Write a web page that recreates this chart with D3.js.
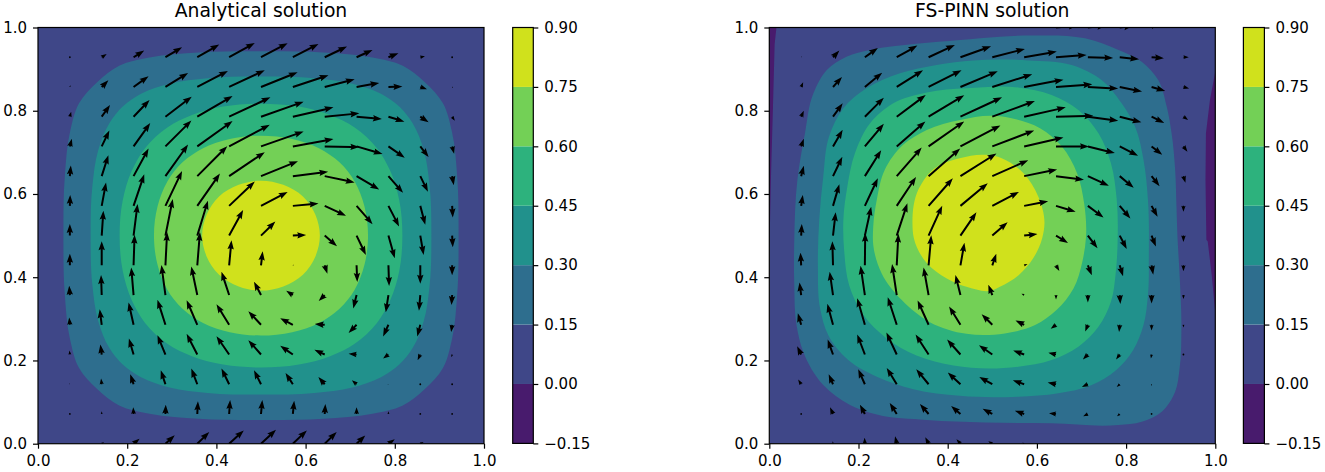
<!DOCTYPE html>
<html>
<head>
<meta charset="utf-8">
<script src="https://cdn.jsdelivr.net/npm/d3@7"></script>
<style>
body { margin: 0; background: #fff; }
text { font-family: "DejaVu Sans", sans-serif; fill: #000; }
</style>
</head>
<body>
<svg width="1325" height="472"></svg>
<script>
// contour levels and colorbar ticks
const levels = [-0.15, 0, 0.15, 0.30, 0.45, 0.60, 0.75, 0.90];
const axisTicks = [0, 0.2, 0.4, 0.6, 0.8, 1];
const gridSize = 15;

// filled contour outlines, in data units (0.15, 0.30, 0.45, 0.60, 0.75)
const analyticLoop015 = [[.943,.5],[.94,.64],[.928,.75],[.908,.818],[.868,.868],[.818,.908],[.75,.928],[.64,.94],[.5,.943],[.36,.94],[.25,.928],[.182,.908],[.132,.868],[.092,.818],[.072,.75],[.06,.64],[.057,.5],[.06,.36],[.072,.25],[.092,.182],[.132,.132],[.182,.092],[.25,.072],[.36,.06],[.5,.057],[.64,.06],[.75,.072],[.818,.092],[.868,.132],[.908,.182],[.928,.25],[.94,.36]];
const analyticLoop030 = [[.882,.5],[.878,.62],[.865,.705],[.84,.77],[.81,.81],[.77,.84],[.705,.865],[.62,.878],[.5,.882],[.38,.878],[.295,.865],[.23,.84],[.19,.81],[.16,.77],[.135,.705],[.122,.62],[.118,.5],[.122,.38],[.135,.295],[.16,.23],[.19,.19],[.23,.16],[.295,.135],[.38,.122],[.5,.118],[.62,.122],[.705,.135],[.77,.16],[.81,.19],[.84,.23],[.865,.295],[.878,.38]];
const analyticLoop045 = [[.817,.5],[.81,.585],[.79,.655],[.76,.71],[.71,.76],[.655,.79],[.585,.81],[.5,.817],[.415,.81],[.345,.79],[.29,.76],[.24,.71],[.21,.655],[.19,.585],[.183,.5],[.19,.415],[.21,.345],[.24,.29],[.29,.24],[.345,.21],[.415,.19],[.5,.183],[.585,.19],[.655,.21],[.71,.24],[.76,.29],[.79,.345],[.81,.415]];
const analyticLoop060 = [[.74,.5],[.732,.57],[.71,.63],[.676,.676],[.63,.71],[.57,.732],[.5,.74],[.43,.732],[.37,.71],[.324,.676],[.29,.63],[.268,.57],[.26,.5],[.268,.43],[.29,.37],[.324,.324],[.37,.29],[.43,.268],[.5,.26],[.57,.268],[.63,.29],[.676,.324],[.71,.37],[.732,.43]];
const analyticLoop075 = [[.632,.5],[.622,.55],[.594,.594],[.55,.622],[.5,.632],[.45,.622],[.406,.594],[.378,.55],[.368,.5],[.378,.45],[.406,.406],[.45,.378],[.5,.368],[.55,.378],[.594,.406],[.622,.45]];

const pinnLoop015 = [[.056,.49],[.063,.634],[.08,.746],[.099,.842],[.129,.898],[.173,.93],[.226,.946],[.33,.961],[.428,.97],[.517,.978],[.596,.981],[.708,.974],[.783,.946],[.835,.918],[.872,.874],[.891,.81],[.902,.746],[.91,.658],[.913,.569],[.915,.502],[.92,.405],[.924,.277],[.92,.181],[.91,.125],[.88,.077],[.835,.053],[.783,.045],[.633,.049],[.484,.051],[.353,.057],[.241,.07],[.181,.093],[.121,.141],[.076,.221],[.061,.285],[.056,.381]];
const pinnLoop030 = [[.112,.538],[.121,.642],[.134,.738],[.166,.806],[.218,.854],[.293,.89],[.375,.91],[.457,.921],[.581,.921],[.678,.91],[.745,.874],[.79,.818],[.82,.762],[.839,.682],[.849,.586],[.851,.454],[.849,.357],[.839,.285],[.816,.225],[.778,.177],[.723,.141],[.648,.121],[.558,.113],[.427,.115],[.323,.131],[.241,.161],[.177,.201],[.132,.261],[.114,.325],[.109,.421]];
const pinnLoop045 = [[.166,.537],[.175,.618],[.192,.698],[.226,.77],[.278,.818],[.353,.844],[.442,.854],[.558,.856],[.633,.838],[.693,.802],[.738,.746],[.766,.674],[.779,.586],[.781,.486],[.777,.413],[.766,.341],[.738,.281],[.693,.233],[.633,.201],[.558,.185],[.413,.188],[.33,.212],[.263,.253],[.211,.309],[.179,.381],[.168,.462]];
const pinnLoop060 = [[.233,.521],[.241,.586],[.259,.658],[.3,.718],[.353,.754],[.428,.778],[.502,.788],[.543,.782],[.607,.758],[.656,.714],[.69,.65],[.706,.577],[.71,.494],[.702,.438],[.682,.373],[.644,.321],[.596,.285],[.528,.265],[.442,.264],[.36,.292],[.297,.345],[.252,.409],[.233,.478]];
const pinnLoop075 = [[.321,.529],[.334,.61],[.371,.662],[.427,.686],[.487,.694],[.521,.686],[.57,.65],[.603,.594],[.617,.53],[.612,.494],[.592,.446],[.559,.405],[.517,.377],[.502,.369],[.442,.377],[.398,.397],[.353,.434],[.324,.494]];

// regions below zero in the FS-PINN panel
const pinnNegLeft = [[0,1],[.016,1],[.012,.96],[.008,.8],[.004,.65],[.001,.5],[0,.47]];
const pinnNegRight = [[1,.895],[.988,.826],[.979,.746],[.978,.634],[.98,.49],[.983,.486],[.992,.405],[.999,.325],[1,.32]];

// quiver components, rows from y=1 down to y=0, columns x=0 to x=1
const analyticU = [
  [0,0,0,0,0,0,0,0,0,0,0,0,0,0,0],
  [0,2,15,32,50,66,77,80,77,67,48,30,14,3,0],
  [0,2,20,45,68,92,107,110,107,90,68,42,20,3,0],
  [0,4,25,48,79,106,124,128,122,104,76,48,25,8,0],
  [0,6,23,50,78,106,122,128,122,104,78,49,25,6,0],
  [0,3,20,45,68,90,107,111,106,90,68,44,23,5,0],
  [0,1,13,32,50,68,77,80,77,64,48,32,15,2,0],
  [0,0,5,12,22,32,42,43,40,37,28,19,10,2,0],
  [0,0,0,3,5,8,7,5,3,8,2,2,0,0,0],
  [0,-2,-2,-7,-12,-18,-23,-21,-20,-18,-10,-8,-4,-2,0],
  [0,-2,-6,-15,-24,-32,-38,-38,-38,-30,-24,-16,-9,-3,0],
  [0,-1,-4,-14,-24,-32,-38,-38,-38,-31,-24,-16,-8,-2,0],
  [0,-1,-2,-10,-14,-18,-23,-21,-22,-19,-14,-3,-1,1,0],
  [0,0,0,-1,1,2,3,4,4,2,0,0,0,0,0],
  [0,0,7,18,28,36,44,45,42,36,26,19,10,0,0]
];
const analyticV = [
  [0,0,0,0,0,0,0,0,0,0,0,0,0,0,0],
  [0,2,10,20,30,38,43,42,40,32,22,12,3,0,0],
  [0,5,20,32,42,48,50,44,35,23,12,1,-7,-3,0],
  [0,15,35,50,60,62,58,45,28,10,-7,-15,-17,-12,0],
  [0,23,48,70,78,76,65,45,22,-2,-23,-34,-32,-22,0],
  [0,32,63,83,95,90,72,45,13,-19,-40,-50,-47,-27,0],
  [0,33,70,95,105,97,73,42,7,-30,-55,-62,-57,-35,0],
  [0,35,75,95,110,105,77,42,2,-32,-58,-68,-58,-35,0],
  [0,35,72,92,100,100,75,42,2,-25,-50,-62,-55,-30,0],
  [0,28,60,83,90,86,70,40,13,-18,-40,-52,-47,-30,0],
  [0,22,47,67,75,74,62,41,20,2,-25,-35,-35,-22,0],
  [0,12,30,48,58,62,55,43,26,14,2,-12,-17,-8,0],
  [0,3,17,30,42,47,47,42,34,22,12,1,1,0,0],
  [0,3,8,20,28,38,42,42,40,30,20,8,3,2,0],
  [0,0,4,15,25,35,40,42,40,35,25,13,5,0,0]
];
const pinnU = [
  [0,0,0,0,0,0,0,0,0,65,55,40,12,0,0],
  [0,1,19,39,62,79,92,98,98,92,76,58,37,16,0],
  [0,6,27,52,79,99,112,120,118,109,91,67,41,17,0],
  [0,8,29,57,87,107,125,128,125,112,91,65,38,14,0],
  [0,8,29,57,86,107,120,126,118,99,81,55,32,12,0],
  [0,8,28,49,75,95,108,108,99,84,63,42,24,6,0],
  [0,5,19,39,58,73,82,80,72,59,47,32,18,0,0],
  [0,2,8,19,32,41,48,46,40,36,29,21,13,0,0],
  [0,-2,-2,1,5,8,12,12,10,10,12,10,5,0,0],
  [0,-5,-10,-13,-14,-15,-15,-12,-8,0,0,2,0,0,0],
  [0,-10,-17,-23,-27,-33,-34,-32,-26,-16,-8,-2,0,0,0],
  [0,-12,-16,-23,-31,-39,-40,-40,-33,-23,-15,-11,-2,0,0],
  [0,-9,-13,-20,-30,-37,-38,-39,-34,-25,-18,-9,-1,0,0],
  [0,-1,-9,-15,-21,-26,-28,-29,-28,-21,-14,-8,-2,0,0],
  [0,0,-1,-1,-5,-10,-12,-12,-6,0,0,0,0,0,0]
];
const pinnV = [
  [0,0,0,0,0,0,0,0,0,6,6,5,3,0,0],
  [0,3,20,28,35,37,33,25,17,7,-2,-6,-3,0,0],
  [0,14,30,43,50,50,47,38,22,8,-5,-14,-12,-5,0],
  [0,18,40,57,65,64,58,47,28,3,-12,-17,-19,-10,0],
  [0,23,50,68,75,75,63,48,27,0,-20,-28,-25,-16,0],
  [0,31,58,78,86,83,68,48,20,-11,-29,-35,-30,-20,0],
  [0,33,65,83,87,83,68,42,14,-18,-35,-38,-33,-18,0],
  [0,35,70,87,97,90,70,40,5,-22,-38,-40,-33,-19,0],
  [0,38,72,98,95,90,68,35,4,-17,-30,-33,-28,-18,0],
  [0,38,70,88,93,83,60,31,4,-13,-22,-27,-25,-12,0],
  [0,35,63,80,83,73,55,32,13,-12,-20,-22,-17,-8,0],
  [0,25,45,60,66,60,45,28,12,5,-15,-15,-12,-3,0],
  [0,14,30,45,49,45,35,22,12,5,-8,-8,-5,0,0],
  [0,2,20,28,33,30,24,16,10,2,-7,-7,-2,0,0],
  [0,0,7,18,22,19,13,7,3,0,0,0,0,0,0]
];

const svg = d3.select("svg");
const plotTop = 27.5, plotBottom = 443.7, plotW = 446;

const bandColor = d3.scaleOrdinal()
    .domain(d3.range(levels.length - 1))
    .range(d3.range(levels.length - 1).map(i => d3.interpolateViridis((i + 0.5) / (levels.length - 1))));

const arrowLen = d3.scaleLinear().domain([0, 100]).range([0, 33.3]);

// same shape rules as a matplotlib quiver: short arrows shrink as a whole
function arrowPath(L) {
    const w = 2, hl = 4.5 * w, hal = 4 * w, hw = 3.2 * w;
    if (L < 1) return d3.arc()({ innerRadius: 0, outerRadius: 0.9, startAngle: 0, endAngle: 7 });
    const s = L < hl ? L / hl : 1;
    const len = L;
    return d3.line()([
        [0, -w / 2 * s], [len - hal * s, -w / 2 * s], [len - hl * s, -hw / 2 * s], [len, 0],
        [len - hl * s, hw / 2 * s], [len - hal * s, w / 2 * s], [0, w / 2 * s]
    ]) + "Z";
}

function drawPanel(opts) {
    const x = d3.scaleLinear().domain([0, 1]).range([opts.left, opts.left + plotW]);
    const y = d3.scaleLinear().domain([0, 1]).range([plotBottom, plotTop]);
    const g = svg.append("g");

    g.append("clipPath").attr("id", opts.id)
        .append("rect").attr("x", x(0)).attr("y", y(1))
        .attr("width", x(1) - x(0)).attr("height", y(0) - y(1));

    const plot = g.append("g").attr("clip-path", `url(#${opts.id})`);

    plot.append("rect").attr("x", x(0)).attr("y", y(1))
        .attr("width", x(1) - x(0)).attr("height", y(0) - y(1))
        .attr("fill", bandColor(1));

    const straight = d3.line().x(d => x(d[0])).y(d => y(d[1]));
    opts.negative.forEach(n => {
        plot.append("path").attr("d", straight(n) + "Z").attr("fill", bandColor(0));
    });

    const smooth = d3.line().x(d => x(d[0])).y(d => y(d[1])).curve(d3.curveCatmullRomClosed.alpha(1));
    plot.selectAll(".band")
        .data(opts.loops)
        .enter()
        .append("path")
        .attr("class", "band")
        .attr("d", d => smooth(d))
        .attr("fill", (d, i) => bandColor(i + 2));

    // quiver
    const arrows = [];
    opts.u.forEach((row, j) => row.forEach((u, i) => {
        arrows.push({ x: i / (gridSize - 1), y: 1 - j / (gridSize - 1), u: u, v: opts.v[j][i] });
    }));
    plot.selectAll(".arrow")
        .data(arrows.filter(d => d.u !== 0 || d.v !== 0))
        .enter()
        .append("path")
        .attr("class", "arrow")
        .attr("transform", d => `translate(${x(d.x)},${y(d.y)}) rotate(${Math.atan2(-d.v, d.u) * 180 / Math.PI})`)
        .attr("d", d => arrowPath(arrowLen(Math.hypot(d.u, d.v))))
        .attr("fill", "#000");

    // frame and axes
    g.append("rect").attr("x", x(0)).attr("y", y(1))
        .attr("width", x(1) - x(0)).attr("height", y(0) - y(1))
        .attr("fill", "none").attr("stroke", "#000").attr("stroke-width", 1.2);

    const xAxis = g.append("g")
        .attr("transform", `translate(0,${plotBottom})`)
        .call(d3.axisBottom(x).tickValues(axisTicks).tickFormat(d3.format(".1f")).tickSize(5).tickPadding(7));
    const yAxis = g.append("g")
        .attr("transform", `translate(${opts.left},0)`)
        .call(d3.axisLeft(y).tickValues(axisTicks).tickFormat(d3.format(".1f")).tickSize(5).tickPadding(6));
    [xAxis, yAxis].forEach(a => {
        a.select(".domain").remove();
        a.selectAll("line").attr("stroke", "#000").attr("stroke-width", 1.2);
        a.selectAll("text").style("font-size", "15px").style("font-family", '"DejaVu Sans"');
    });

    g.append("text")
        .attr("x", (x(0) + x(1)) / 2)
        .attr("y", 17)
        .style("text-anchor", "middle")
        .style("font-size", "18.8px")
        .text(opts.title);

    // colorbar
    const cb = d3.scaleLinear().domain([levels[0], levels[levels.length - 1]]).range([plotBottom - 0.3, plotTop]);
    const bar = svg.append("g");
    bar.selectAll("rect")
        .data(d3.range(levels.length - 1))
        .enter()
        .append("rect")
        .attr("x", opts.barLeft)
        .attr("width", opts.barWidth)
        .attr("y", i => cb(levels[i + 1]))
        .attr("height", i => cb(levels[i]) - cb(levels[i + 1]))
        .attr("fill", i => bandColor(i));
    bar.append("rect")
        .attr("x", opts.barLeft).attr("y", cb.range()[1])
        .attr("width", opts.barWidth).attr("height", cb.range()[0] - cb.range()[1])
        .attr("fill", "none").attr("stroke", "#000").attr("stroke-width", 1.2);
    const cbAxis = bar.append("g")
        .attr("transform", `translate(${opts.barLeft + opts.barWidth},0)`)
        .call(d3.axisRight(cb).tickValues(levels).tickFormat(d3.format(".2f")).tickSize(5).tickPadding(6));
    cbAxis.select(".domain").remove();
    cbAxis.selectAll("line").attr("stroke", "#000").attr("stroke-width", 1.2);
    cbAxis.selectAll("text").style("font-size", "15px").style("font-family", '"DejaVu Sans"');
}

drawPanel({
    id: "clipA", title: "Analytical solution", left: 38, barLeft: 512.7, barWidth: 20.6,
    loops: [analyticLoop015, analyticLoop030, analyticLoop045, analyticLoop060, analyticLoop075],
    negative: [], u: analyticU, v: analyticV
});
drawPanel({
    id: "clipB", title: "FS-PINN solution", left: 769.3, barLeft: 1243.4, barWidth: 21,
    loops: [pinnLoop015, pinnLoop030, pinnLoop045, pinnLoop060, pinnLoop075],
    negative: [pinnNegLeft, pinnNegRight], u: pinnU, v: pinnV
});
</script>
</body>
</html>
